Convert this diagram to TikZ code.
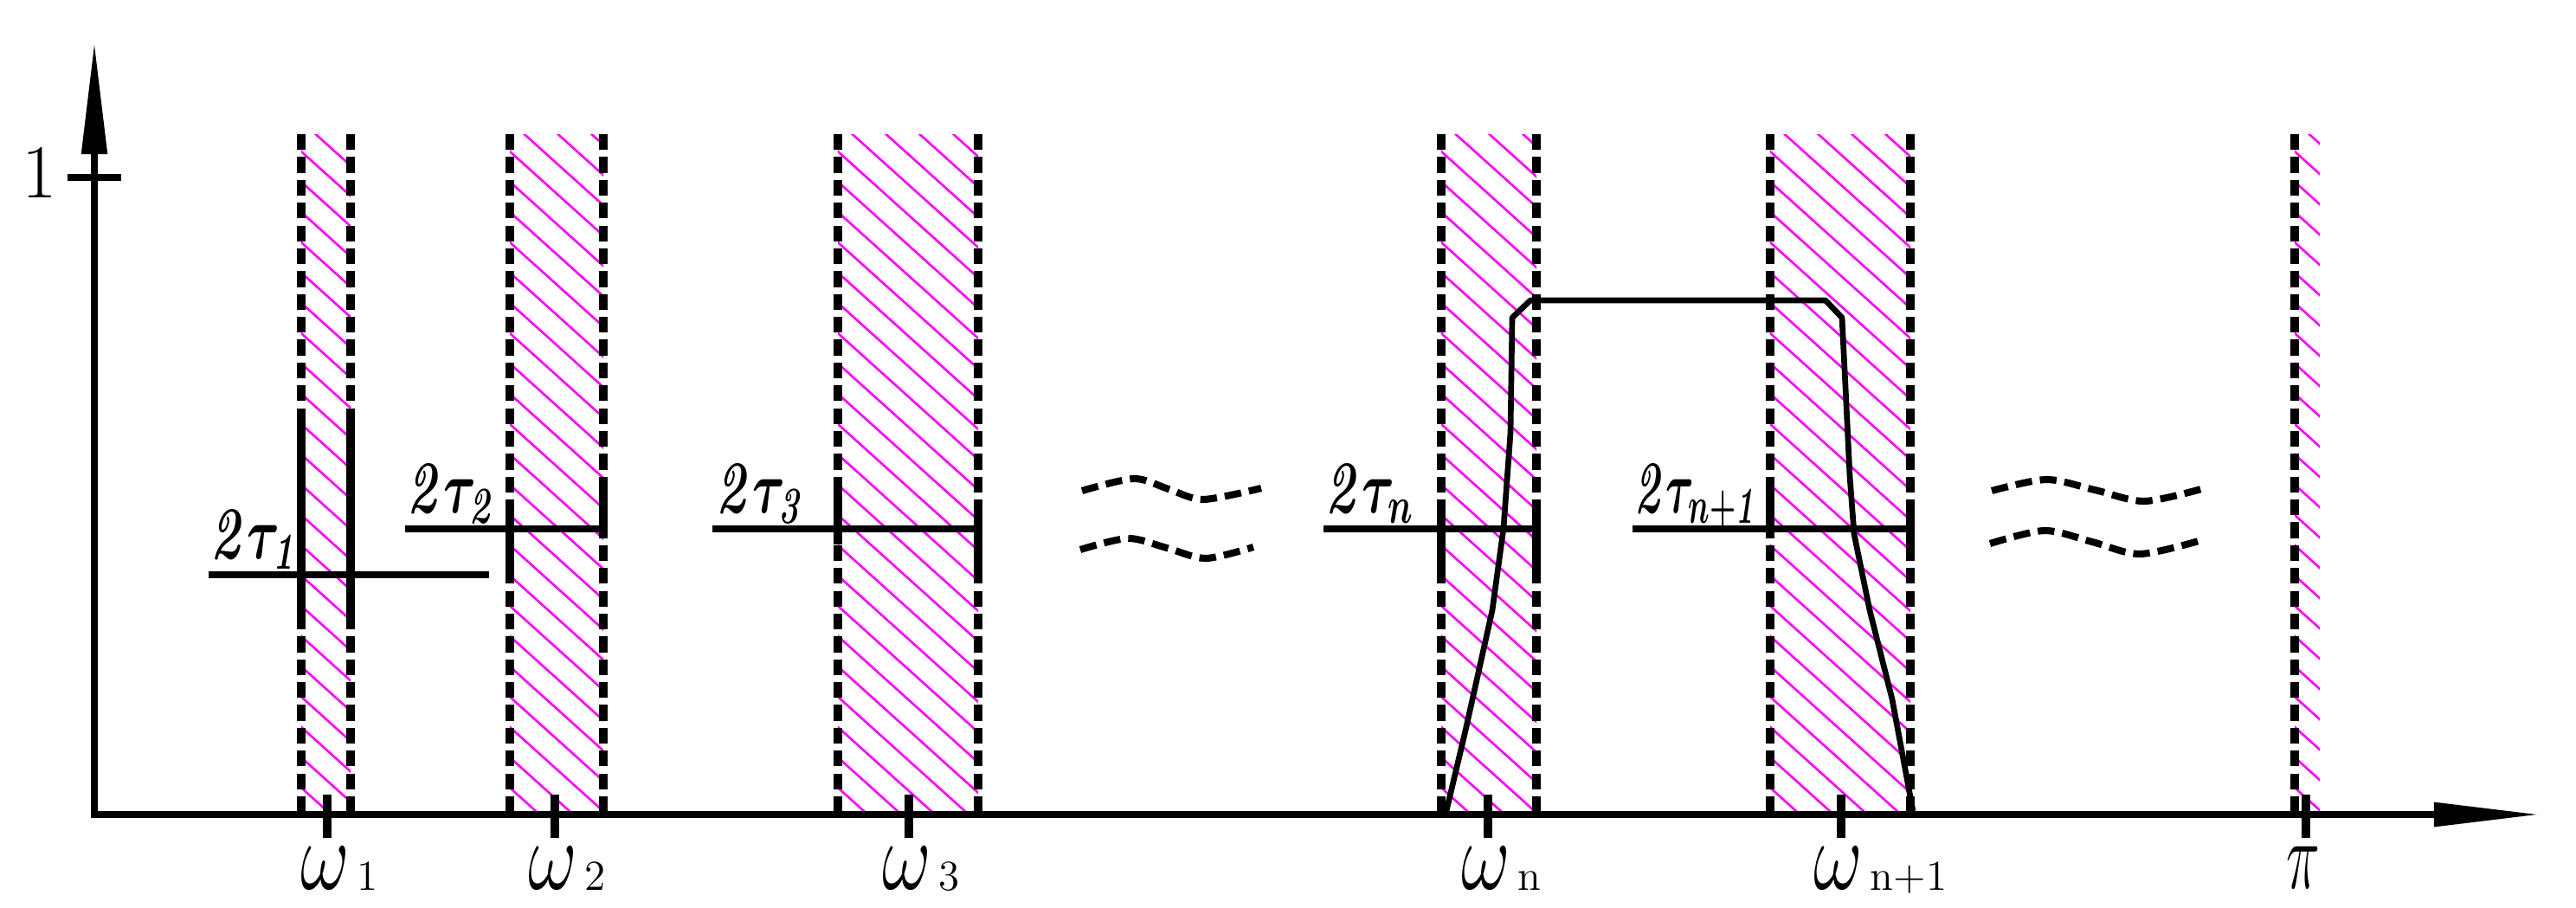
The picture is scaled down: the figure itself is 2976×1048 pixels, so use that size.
\documentclass[tikz,border=0pt]{standalone}
\usepackage{amsmath}
\usepackage{graphicx}
\usetikzlibrary{arrows.meta}
\definecolor{hatchc}{RGB}{255,0,255}
\tikzset{
 axisline/.style={line width=2.3pt},
 bandedge/.style={line width=2.6pt, dash pattern=on 5.2pt off 2.3pt},
 solidedge/.style={line width=2.6pt},
 hatchline/.style={hatchc, line width=0.75pt},
 tauline/.style={line width=2.2pt},
 respline/.style={line width=1.9pt, line join=round},
 wave/.style={line width=2.3pt, dash pattern=on 5.5pt off 2.6pt},
 tickmark/.style={line width=2.6pt},
 omegalab/.style={inner sep=0pt, anchor=south, font=\fontsize{26}{26}\selectfont},
 sublab/.style={inner sep=0pt, anchor=base west, font=\fontsize{14}{14}\selectfont},
 taulabel/.style={inner sep=0pt, anchor=base west, font=\fontsize{18}{18}\selectfont},
}
\newcommand\hatchband[2]{%
 \begin{scope}
 \clip (#1,155) rectangle (#2,941);
 \foreach \i in {0,...,29} \draw[hatchline] (#1-400,\i*35-360) -- (#1+400,\i*35+360);
 \end{scope}}
\newcommand\taulab[2][0.95]{\scalebox{#1}[1.42]{\boldmath$\mathit{2}\tau_{#2}$}}
\newcommand\omlab{\scalebox{1}[1.3]{$\omega$}}
\begin{document}
\begin{tikzpicture}[x=0.01cm,y=-0.01cm]
\useasboundingbox (0,0) rectangle (2976,1048);
% hatching
\hatchband{348}{405}
\hatchband{589}{697}
\hatchband{968}{1130}
\hatchband{1665}{1775}
\hatchband{2045}{2207}
\hatchband{2651}{2680}
% dashed band edges
\foreach \x in {348,405,589,697,968,1130,1665,1775,2045,2207,2651}
  \draw[bandedge] (\x,155) -- (\x,941);
% solid parts of the edges
\draw[solidedge] (348,489) -- (348,714);
\draw[solidedge] (405,489) -- (405,714);
\draw[solidedge] (589,591) -- (589,662);
\draw[solidedge] (697,562) -- (697,616);
\draw[solidedge] (968,562) -- (968,629);
\draw[solidedge] (1130,591) -- (1130,662);
\draw[solidedge] (1665,592) -- (1665,669);
\draw[solidedge] (1775,592) -- (1775,669);
\draw[solidedge] (2045,562) -- (2045,616);
\draw[solidedge] (2207,592) -- (2207,632);
% 2tau lines
\draw[tauline] (241,664) -- (565,664);
\draw[tauline] (468,611) -- (697,611);
\draw[tauline] (823,611) -- (1130,611);
\draw[tauline] (1529,611) -- (1775,611);
\draw[tauline] (1886,611) -- (2207,611);
% 2tau labels
\node[taulabel] (t1) at (243,645) {\taulab{\mathit{1}}};
\node[taulabel] (t2) at (470,592) {\taulab{\mathit{2}}};
\node[taulabel] (t3) at (827,592) {\taulab{\mathit{3}}};
\node[taulabel] (tn) at (1531,592) {\taulab{n}};
\node[taulabel] (tn1) at (1888,592) {\taulab[0.82]{n+\mathit{1}}};
% response curve
\draw[respline] (1670,941) -- (1693,844) -- (1724,705) -- (1737,610) -- (1745,500)
  -- (1747,367) -- (1768,347) -- (2109,347) -- (2128,367) -- (2132,447)
  -- (2137,550) -- (2142,617) -- (2160,705) -- (2186,808) -- (2210,937);
% approximately-equal wave marks
\draw[wave] plot[smooth] coordinates {(1250,567) (1310,553) (1350,565) (1390,577) (1457,564)};
\draw[wave] plot[smooth] coordinates {(1248,635) (1303,622) (1348,633) (1393,645) (1448,632)};
\draw[wave] plot[smooth] coordinates {(2301,567) (2364,554) (2420,566) (2477,579) (2543,565)};
\draw[wave] plot[smooth] coordinates {(2299,628) (2362,613) (2417,626) (2472,640) (2540,625)};
% axes
\draw[axisline, -{Triangle[length=37pt,width=8pt]}] (109,945) -- (109,48);
\draw[axisline, -{Triangle[length=35pt,width=7.5pt]}] (105,941) -- (2935,941);
\draw[axisline] (78,205) -- (140,205);
\node[inner sep=0pt, font=\fontsize{25}{25}\selectfont] (one) at (46,199) {1};
% ticks on the frequency axis
\foreach \x in {378,641,1050,1719,2127,2664}
  \draw[tickmark] (\x,918) -- (\x,968);
% omega labels
\node[omegalab] (w1) at (376,1028) {\omlab};
\node[sublab] (s1) at ([xshift=2pt]w1.south east) {1};
\node[omegalab] (w2) at (639,1028) {\omlab};
\node[sublab] (s2) at ([xshift=2pt]w2.south east) {2};
\node[omegalab] (w3) at (1048,1028) {\omlab};
\node[sublab] (s3) at ([xshift=2pt]w3.south east) {3};
\node[omegalab] (wn) at (1717,1028) {\omlab};
\node[sublab] (sn) at ([xshift=2pt]wn.south east) {n};
\node[omegalab] (wn1) at (2124,1028) {\omlab};
\node[sublab] (sn1) at ([xshift=2pt]wn1.south east) {n+1};
\node[omegalab] (pi) at (2661,1027) {\scalebox{0.75}[1.28]{$\pi$}};
\end{tikzpicture}
\end{document}
